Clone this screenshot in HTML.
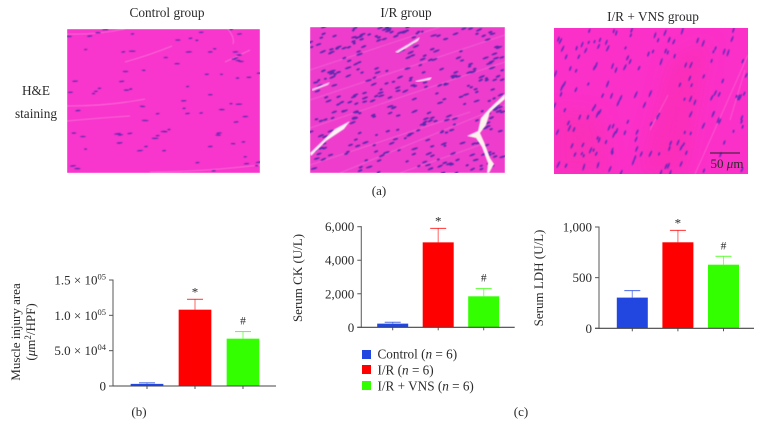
<!DOCTYPE html>
<html>
<head>
<meta charset="utf-8">
<title>Muscle injury figure</title>
<style>
html,body{margin:0;padding:0;background:#fff;}
svg{display:block;}
text{font-family:"Liberation Serif",serif;fill:#2a2a2a;}
</style>
</head>
<body>
<svg id="fig" xmlns="http://www.w3.org/2000/svg" width="763" height="439" viewBox="0 0 763 439">
  <defs>
    <clipPath id="clip-control"><rect x="67" y="29" width="193" height="144"/></clipPath>
    <clipPath id="clip-ir"><rect x="310" y="27" width="195" height="146"/></clipPath>
    <clipPath id="clip-vns"><rect x="554" y="28" width="194" height="146"/></clipPath>
    <filter id="soft" x="0" y="0" width="100%" height="100%"><feGaussianBlur stdDeviation="0.45"/></filter>
    <filter id="patch" x="-30%" y="-30%" width="160%" height="160%"><feGaussianBlur stdDeviation="9"/></filter>
  </defs>

  <text x="167" y="17" font-size="13.3" text-anchor="middle">Control group</text>
  <text x="406" y="17" font-size="13.3" text-anchor="middle">I/R group</text>
  <text x="653" y="21" font-size="13.3" text-anchor="middle">I/R + VNS group</text>
  <text x="36" y="95" font-size="13.3" text-anchor="middle">H&amp;E</text>
  <text x="36" y="118" font-size="13.3" text-anchor="middle">staining</text>

  <g clip-path="url(#clip-control)">
    <g id="panel-control" filter="url(#soft)">
      <rect x="67" y="29" width="193" height="144" fill="#f834cc"/>
      <g fill="none" stroke="#f9a8e6" stroke-width="0.8" opacity="0.5">
        <path d="M67 34 Q95 35 125 29"/>
        <path d="M67 106 Q110 106 145 99"/>
        <path d="M67 121 Q100 118 130 116"/>
        <path d="M125 62 Q150 55 172 46"/>
        <path d="M225 62 Q240 55 250 50"/>
        <path d="M150 172 Q200 172 260 165"/>
        <path d="M228 29 Q235 38 233 44"/>
      </g>
    </g>
  </g>
  <g clip-path="url(#clip-ir)">
    <g id="panel-ir" filter="url(#soft)">
      <rect x="310" y="27" width="195" height="146" fill="#ee3ccc"/>
      <g fill="none" stroke="#f6a6e6" stroke-width="0.8" opacity="0.35">
        <path d="M310 70 L440 27"/>
        <path d="M310 100 L505 35"/>
        <path d="M310 128 L505 62"/>
        <path d="M340 173 L505 105"/>
        <path d="M310 165 L470 112"/>
        <path d="M400 173 L480 145"/>
      </g>
    </g>
  </g>
  <g clip-path="url(#clip-vns)">
    <rect x="554" y="28" width="194" height="146" fill="#fb30c8"/>
    <path d="M554 110 L600 115 L610 174 L554 174 Z" fill="#f82fa8" opacity="0.45" filter="url(#patch)"/>
    <path d="M670 60 L710 40 L685 174 L640 174 Z" fill="#fa2ca8" opacity="0.45" filter="url(#patch)"/>
    <g id="panel-vns" filter="url(#soft)">
      <g fill="none" stroke="#fba6e0" stroke-width="0.8" opacity="0.4">
        <path d="M695 174 L748 55"/>
        <path d="M650 130 L668 95"/>
        <path d="M730 120 L745 70"/>
      </g>
    </g>
  </g>

  <g clip-path="url(#clip-ir)">
    <path d="M310 153 L335 129 L350 121 L344 129 L326 141 L311 156 Z" fill="#fdf3f6" filter="url(#soft)"/>
    <path d="M505 94 L505 99 L490 112 L486 125 L480 133 L484 142 L490 158 L494 164 L489 173 L487 173 L488 163 L482 147 L476 138 L467 136 L478 131 L481 118 L490 108 Z" fill="#fdf3ee" filter="url(#soft)"/>
    <path d="M395 52 L420 37 L418 41 L398 53 Z" fill="#fbe2f2" filter="url(#soft)"/>
    <path d="M312 89 L330 82 L328 85 L312 91 Z" fill="#fbd0ee" filter="url(#soft)"/>
    <path d="M415 81 L432 77 L430 80 L417 82 Z" fill="#fbe2f2" filter="url(#soft)"/>
  </g>

  <line x1="710" y1="153" x2="740" y2="153" stroke="#222" stroke-width="1"/>
  <text x="727" y="168" font-size="13" text-anchor="middle">50 <tspan font-style="italic">μ</tspan>m</text>

  <text x="379" y="195" font-size="13" text-anchor="middle">(a)</text>
  <text x="139" y="416" font-size="13" text-anchor="middle">(b)</text>
  <text x="521" y="416" font-size="13" text-anchor="middle">(c)</text>

  <text transform="translate(20,332) rotate(-90)" font-size="13" text-anchor="middle">Muscle injury area</text>
  <text transform="translate(35,332) rotate(-90)" font-size="13" text-anchor="middle">(<tspan font-style="italic">μ</tspan>m<tspan font-size="9" dy="-4">2</tspan><tspan dy="4">/HPF)</tspan></text>
  <text transform="translate(302,278) rotate(-90)" font-size="13" text-anchor="middle">Serum CK (U/L)</text>
  <text transform="translate(543,278) rotate(-90)" font-size="13" text-anchor="middle">Serum LDH (U/L)</text>

  <g id="charts"></g>

  <g>
    <g>
      <rect x="362" y="350" width="9" height="9" fill="#2147e0"/>
      <text x="377.5" y="358.5" font-size="13.2">Control (<tspan font-style="italic">n</tspan> = 6)</text>
    </g>
    <g>
      <rect x="362" y="365" width="9" height="9" fill="#ff0000"/>
      <text x="377.5" y="374.5" font-size="13.2">I/R (<tspan font-style="italic">n</tspan> = 6)</text>
    </g>
    <g>
      <rect x="362" y="381" width="9" height="9" fill="#33ff00"/>
      <text x="377.5" y="390.5" font-size="13.2">I/R + VNS (<tspan font-style="italic">n</tspan> = 6)</text>
    </g>
  </g>
</svg>

<script>
// Chart data
var groups = ['Control', 'I/R', 'I/R + VNS'];
var groupColors = ['#2147e0', '#ff0000', '#33ff00'];
var markers = ['', '*', '#'];

var muscleValues = [3000, 108000, 67000];
var muscleErrors = [1500, 14700, 10000];
var muscleTicks = [0, 50000, 100000, 150000];
var muscleTickLabels = ['0', '5.0 × 10|04', '1.0 × 10|05', '1.5 × 10|05'];

var ckValues = [218, 5066, 1848];
var ckErrors = [80, 834, 457];
var ckTicks = [0, 2000, 4000, 6000];
var ckTickLabels = ['0', '2,000', '4,000', '6,000'];

var ldhValues = [303, 849, 628];
var ldhErrors = [69, 118, 83];
var ldhTicks = [0, 500, 1000];
var ldhTickLabels = ['0', '500', '1,000'];

var SVGNS = 'http://www.w3.org/2000/svg';

function make(parent, tag, attrs, text) {
  var el = document.createElementNS(SVGNS, tag);
  for (var k in attrs) { el.setAttribute(k, attrs[k]); }
  if (text !== undefined) { el.textContent = text; }
  parent.appendChild(el);
  return el;
}

function drawChart(name, box, values, errors, ticks, tickLabels, yMax) {
  var root = document.getElementById('charts');
  var g = make(root, 'g', {});
  
  

  function yScale(v) { return box.y0 - (v / yMax) * (box.y0 - box.yTop); }
  function xScale(i) { return box.firstCenter + i * box.step; }

  values.forEach(function (v, i) {
    var cx = xScale(i);
    var top = yScale(v);
    var errTop = yScale(v + errors[i]);

    var stem = make(g, 'line', { x1: cx, x2: cx, y1: top, y2: errTop, stroke: groupColors[i], 'stroke-width': 1.1, opacity: 0.55 });
    
    

    var cap = make(g, 'line', { x1: cx - 8, x2: cx + 8, y1: errTop, y2: errTop, stroke: groupColors[i], 'stroke-width': 1, opacity: 0.8 });
    
    

    var bar = make(g, 'rect', { x: cx - box.barWidth / 2, y: top, width: box.barWidth, height: box.y0 - top, fill: groupColors[i] });
    
    

    if (markers[i]) {
      var isStar = markers[i] === '*';
      var mark = make(g, 'text', { x: cx, y: errTop - (isStar ? 3 : 7), 'font-size': isStar ? 13 : 11.5, 'text-anchor': 'middle' }, markers[i]);
      
      
    }

    var xt = make(g, 'line', { x1: cx, x2: cx, y1: box.y0, y2: box.y0 + 3, stroke: '#555', 'stroke-width': 1 });
    
    
  });

  var yAxis = make(g, 'line', { x1: box.x0, x2: box.x0, y1: box.yTop - 0.5, y2: box.y0 + 0.5, stroke: '#666', 'stroke-width': 1.1 });
  
  

  var xAxis = make(g, 'line', { x1: box.x0 - 4, x2: box.x1, y1: box.y0, y2: box.y0, stroke: '#444', 'stroke-width': 1.1 });
  
  

  ticks.forEach(function (t, i) {
    var y = yScale(t);
    var tl = make(g, 'line', { x1: box.x0 - 4, x2: box.x0, y1: y, y2: y, stroke: '#555', 'stroke-width': 1 });
    
    

    var parts = tickLabels[i].split('|');
    var label = make(g, 'text', { x: box.x0 - 7, y: y + 4.5, 'font-size': 13, 'text-anchor': 'end' }, parts[0]);
    
    
    if (parts[1]) {
      var sup = make(label, 'tspan', { 'font-size': 8.5, dy: -5 }, parts[1]);
      
      
    }
  });
}

drawChart('muscle-injury', { x0: 113, x1: 276, y0: 386, yTop: 280, firstCenter: 147, step: 48, barWidth: 32.7 },
  muscleValues, muscleErrors, muscleTicks, muscleTickLabels, 150000);
drawChart('serum-ck', { x0: 361.3, x1: 514.7, y0: 327.3, yTop: 226.7, firstCenter: 392.7, step: 45.5, barWidth: 31 },
  ckValues, ckErrors, ckTicks, ckTickLabels, 6000);
drawChart('serum-ldh', { x0: 599, x1: 754, y0: 328.3, yTop: 227, firstCenter: 632.3, step: 45.6, barWidth: 31 },
  ldhValues, ldhErrors, ldhTicks, ldhTickLabels, 1000);

// Histology texture: nuclei scattered by a fixed-seed generator
var seed = 12345;
function rnd() { seed = (seed * 16807) % 2147483647; return (seed - 1) / 2147483646; }

function scatterNuclei(panelId, panelName, x, y, w, h, count, angle, rx, ry, color) {
  var panel = document.getElementById(panelId);
  var group = document.createElementNS(SVGNS, 'g');
  
  
  group.setAttribute('fill', color);
  panel.appendChild(group);
  for (var i = 0; i < count; i++) {
    var cx = x + rnd() * w;
    var cy = y + rnd() * h;
    var a = angle + (rnd() - 0.5) * 10;
    var e = document.createElementNS(SVGNS, 'ellipse');
    e.setAttribute('cx', cx.toFixed(1));
    e.setAttribute('cy', cy.toFixed(1));
    e.setAttribute('rx', (rx * (0.6 + rnd() * 0.8)).toFixed(1));
    e.setAttribute('ry', ry);
    e.setAttribute('transform', 'rotate(' + a.toFixed(0) + ' ' + cx.toFixed(1) + ' ' + cy.toFixed(1) + ')');
    
    
    group.appendChild(e);
  }
}

scatterNuclei('panel-control', 'control', 67, 29, 193, 144, 85, -3, 2.6, 0.8, '#5a2ab0');
scatterNuclei('panel-ir', 'ir', 310, 27, 195, 146, 320, -20, 2.6, 1.1, '#5a2ab0');
scatterNuclei('panel-vns', 'ir-vns', 554, 28, 194, 146, 160, -68, 2.8, 0.9, '#6a2abc');
</script>
</body>
</html>
